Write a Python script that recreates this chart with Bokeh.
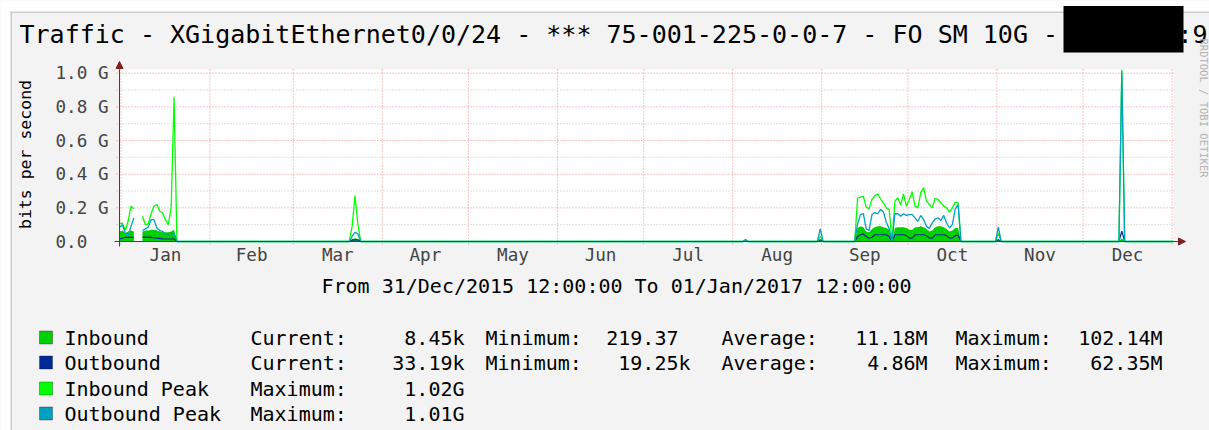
import math
import pandas as pd
from bokeh.plotting import figure
from bokeh.models import (Range1d, FixedTicker, CustomJSTickFormatter, DatetimeTickFormatter,
                          Label, BoxAnnotation, Arrow, NormalHead, ColumnDataSource,
                          DatetimeAxis, LinearAxis)
from bokeh.embed import file_html
from bokeh.resources import INLINE

nan = float("nan")

# ---------------- data (Gbit/s, daily samples; nan = no data) ----------------
times = (
    ["2015-12-31 12:00"] + [f"2016-01-{d:02d} 12:00" for d in range(1, 21)]
    + ["2016-03-20 12:00", "2016-03-21 12:00", "2016-03-22 12:00", "2016-03-23 12:00", "2016-03-24 12:00"]
    + ["2016-08-04 12:00", "2016-08-05 12:00", "2016-08-06 12:00"]
    + ["2016-08-30 12:00", "2016-08-31 12:00", "2016-09-01 12:00"]
    + [f"2016-09-{d:02d} 12:00" for d in range(12, 31)]
    + [f"2016-10-{d:02d} 12:00" for d in range(1, 20)]
    + ["2016-10-31 12:00", "2016-11-01 12:00", "2016-11-02 12:00"]
    + ["2016-12-13 12:00", "2016-12-14 12:00", "2016-12-15 12:00"]
    + ["2017-01-01 12:00"]
)

inbound = (
    [0.06, 0.065, 0.05, 0.06, 0.065, 0.06, nan, nan, 0.06, 0.065, 0.065, 0.07, 0.07, 0.065, 0.06, 0.055, 0.055, 0.055, 0.06, 0.07, 0]
    + [0, 0.015, 0.02, 0.015, 0]
    + [0, 0.004, 0]
    + [0, 0.01, 0]
    + [0, 0.08, 0.09, 0.085, 0.06, 0.055, 0.075, 0.085, 0.09, 0.09, 0.085, 0.08, 0.07, 0,
       0.08, 0.085, 0.085, 0.085, 0.08,
       0.07, 0.07, 0.085, 0.085, 0.09, 0.085, 0.075, 0.06, 0.065, 0.085, 0.09, 0.09, 0.085, 0.075, 0.06, 0.065, 0.08, 0.08, 0]
    + [0, 0.015, 0]
    + [0, 0.02, 0]
    + [0]
)

outbound = (
    [0.015, 0.02, 0.025, 0.025, 0.025, 0.025, nan, nan, 0.026, 0.026, 0.026, 0.025, 0.022, 0.02, 0.018, 0.016, 0.015, 0.015, 0.015, 0.015, 0]
    + [0, 0.008, 0.01, 0.01, 0]
    + [0, 0.003, 0]
    + [0, 0.01, 0]
    + [0, 0.03, 0.04, 0.045, 0.03, 0.02, 0.025, 0.04, 0.04, 0.04, 0.04, 0.04, 0.03, 0,
       0.04, 0.04, 0.04, 0.04, 0.035,
       0.02, 0.02, 0.04, 0.04, 0.04, 0.04, 0.035, 0.02, 0.02, 0.04, 0.04, 0.04, 0.04, 0.035, 0.02, 0.022, 0.035, 0.038, 0]
    + [0, 0.01, 0]
    + [0, 0.062, 0]
    + [0]
)

inbound_peak = (
    [0.105, 0.11, 0.065, 0.12, 0.21, 0.195, nan, nan, 0.15, 0.10, 0.105, 0.165, 0.21, 0.22, 0.18, 0.17, 0.13, 0.10, 0.205, 0.857, 0]
    + [0, 0.09, 0.273, 0.105, 0]
    + [0, 0.008, 0]
    + [0, 0.03, 0]
    + [0, 0.257, 0.263, 0.269, 0.204, 0.194, 0.25, 0.272, 0.283, 0.254, 0.23, 0.2, 0.19, 0,
       0.24, 0.26, 0.218, 0.283, 0.21,
       0.25, 0.295, 0.21, 0.2, 0.29, 0.32, 0.24, 0.22, 0.2, 0.257, 0.25, 0.23, 0.21, 0.2, 0.174, 0.2, 0.234, 0.23, 0]
    + [0, 0.05, 0]
    + [0, 1.02, 0]
    + [0]
)

outbound_peak = (
    [0.085, 0.10, 0.05, 0.035, 0.09, 0.14, nan, nan, 0.065, 0.075, 0.085, 0.13, 0.13, 0.08, 0.065, 0.06, 0.045, 0.045, 0.045, 0.05, 0]
    + [0, 0.03, 0.055, 0.045, 0]
    + [0, 0.012, 0]
    + [0, 0.075, 0]
    + [0, 0.105, 0.16, 0.165, 0.075, 0.065, 0.16, 0.172, 0.165, 0.19, 0.175, 0.115, 0.075, 0,
       0.165, 0.165, 0.15, 0.165, 0.155,
       0.16, 0.16, 0.14, 0.12, 0.155, 0.13, 0.09, 0.078, 0.11, 0.135, 0.14, 0.125, 0.155, 0.11, 0.08, 0.1, 0.194, 0.218, 0]
    + [0, 0.085, 0]
    + [0, 1.01, 0]
    + [0]
)

y_ticks = [0.0, 0.2, 0.4, 0.6, 0.8, 1.0]
y_minor = [0.1, 0.3, 0.5, 0.7, 0.9]

legend_names = ["Inbound", "Outbound", "Inbound Peak", "Outbound Peak"]
legend_colors = ["#00CF00", "#002A97", "#00FF00", "#00A0C0"]
col1_label = ["Current:", "Current:", "Maximum:", "Maximum:"]
col1_value = ["8.45k", "33.19k", "1.02G", "1.01G"]
minimum = ["219.37", "19.25k", None, None]
average = ["11.18M", "4.86M", None, None]
maximum = ["102.14M", "62.35M", None, None]

title_text = "Traffic - XGigabitEthernet0/0/24 - *** 75-001-225-0-0-7 - FO SM 10G -"
title_tail = ":9"
y_label = "bits per second"
period_text = "From 31/Dec/2015 12:00:00 To 01/Jan/2017 12:00:00"
watermark = "RRDTOOL / TOBI OETIKER"

# ---------------- styling ----------------
MONO = "DejaVu Sans Mono"
AXIS = "#2C4D43"
ARROW = "#7F1F1F"
BG = "#F3F3F3"
W, H = 1209, 430
LEG = "20px"

T0 = pd.Timestamp("2015-12-31 12:00")
T1 = pd.Timestamp("2017-01-01 12:00")
YTOP = 1.022
t0ms = T0.value / 1e6
t1ms = T1.value / 1e6
FX0, FX1, FY0, FY1 = 119, 1173, 241, 69   # chart canvas edges in page pixels


def X(px):
    return t0ms + (px - FX0) / (FX1 - FX0) * (t1ms - t0ms)


def Y(py):
    return (FY0 - py) / (FY0 - FY1) * YTOP


p = figure(width=W, height=H, x_axis_type="datetime",
           x_axis_location=None, y_axis_location=None,
           x_range=Range1d(X(0), X(W)), y_range=Range1d(Y(H), Y(0)),
           output_backend="svg", toolbar_location=None,
           min_border=0, min_border_left=0, min_border_right=0, min_border_top=0, min_border_bottom=0,
           background_fill_color=BG, border_fill_color=BG, outline_line_color=None)
p.grid.visible = False

# white chart canvas
p.add_layout(BoxAnnotation(left=t0ms, right=t1ms, bottom=0, top=YTOP, level="underlay",
                           fill_color="white", fill_alpha=1, line_color=None))

# grid lines
month_starts = [ts.value / 1e6 for ts in pd.date_range("2016-01-01", "2017-01-01", freq="MS")]
month_mids = [(a + b) / 2 for a, b in zip(month_starts[:-1], month_starts[1:])]

p.segment(x0=[X(116)] * len(y_minor), x1=[t1ms] * len(y_minor), y0=y_minor, y1=y_minor,
          line_color="#8C8C8C", line_alpha=0.5, line_dash="1 2", line_width=1)
p.segment(x0=[X(116)] * 5, x1=[t1ms] * 5, y0=y_ticks[1:], y1=y_ticks[1:],
          line_color="#E00000", line_alpha=0.45, line_dash="1 2", line_width=1)
p.segment(x0=month_starts, x1=month_starts, y0=[Y(244)] * len(month_starts), y1=[YTOP] * len(month_starts),
          line_color="#E00000", line_alpha=0.45, line_dash="1 2", line_width=1)

# ---------------- data renderers ----------------
t = pd.to_datetime(times)
src = ColumnDataSource(dict(t=t, inb=inbound, outb=outbound, inp=inbound_peak, outp=outbound_peak))

run = []
for i, v in enumerate(inbound):
    if v == v:
        run.append(i)
    if (v != v or i == len(inbound) - 1) and run:
        p.varea(x=[t[j] for j in run], y1=[0] * len(run), y2=[inbound[j] for j in run],
                fill_color=legend_colors[0])
        run = []

p.line("t", "outb", source=src, line_color=legend_colors[1], line_width=1.2)
p.line("t", "inp", source=src, line_color=legend_colors[2], line_width=1.3)
p.line("t", "outp", source=src, line_color=legend_colors[3], line_width=1.3)

# ---------------- axes (fixed at the chart origin) ----------------
yaxis = LinearAxis(fixed_location=t0ms, bounds=(Y(246), YTOP),
                   ticker=FixedTicker(ticks=y_ticks),
                   formatter=CustomJSTickFormatter(
                       code="return tick == 0 ? '0.0\\u00a0\\u00a0' : tick.toFixed(1) + ' G';"),
                   major_label_text_font=MONO, major_label_text_font_size="17.6px",
                   major_label_standoff=11, major_tick_in=0, major_tick_out=0,
                   minor_tick_in=0, minor_tick_out=0, axis_line_color=AXIS)
p.add_layout(yaxis, "left")

fmt = "%b"
xaxis = DatetimeAxis(fixed_location=0, bounds=(X(114), t1ms),
                     ticker=FixedTicker(ticks=month_mids),
                     formatter=DatetimeTickFormatter(microseconds=fmt, milliseconds=fmt, seconds=fmt,
                                                     minsec=fmt, minutes=fmt, hourmin=fmt, hours=fmt,
                                                     days=fmt, months=fmt, years=fmt),
                     major_label_text_font=MONO, major_label_text_font_size="17.6px",
                     major_label_standoff=3, major_tick_in=0, major_tick_out=0,
                     minor_tick_in=0, minor_tick_out=0, axis_line_color=AXIS)
p.add_layout(xaxis, "below")

# axis arrows
p.add_layout(Arrow(end=NormalHead(size=7, fill_color=ARROW, line_color=ARROW),
                   x_start=t1ms, y_start=0, x_end=X(1185), y_end=0, line_color=AXIS))
p.add_layout(Arrow(end=NormalHead(size=7, fill_color=ARROW, line_color=ARROW),
                   x_start=t0ms, y_start=YTOP, x_end=t0ms, y_end=Y(61), line_color=AXIS))

# panel edges
p.add_layout(BoxAnnotation(left=X(0), right=X(W), top=Y(0), bottom=Y(11),
                           fill_color="white", fill_alpha=1, line_color=None))
p.add_layout(BoxAnnotation(left=X(0), right=X(10), top=Y(0), bottom=Y(H),
                           fill_color="white", fill_alpha=1, line_color=None))
p.add_layout(BoxAnnotation(left=X(10), right=X(W), top=Y(11), bottom=Y(12.5),
                           fill_color="#CFCFCF", fill_alpha=1, line_color=None))
p.add_layout(BoxAnnotation(left=X(10), right=X(11.5), top=Y(11), bottom=Y(H),
                           fill_color="#CFCFCF", fill_alpha=1, line_color=None))


def lab(text, px, py, size, align="left", color="black", angle=0, baseline="middle"):
    p.add_layout(Label(x=X(px), y=Y(py), text=text, text_font=MONO, text_font_size=size,
                       text_align=align, text_baseline=baseline, text_color=color, angle=angle))


# title and redaction box
lab(title_text, 19, 34, "25px")
p.add_layout(BoxAnnotation(left=X(1063), right=X(1183), top=Y(5.5), bottom=Y(52),
                           fill_color="black", fill_alpha=1, line_color=None))
lab(title_tail, 1207, 34, "25px", align="right")

# y axis label, watermark, period
lab(y_label, 25, 154, "16.5px", align="center", angle=math.pi / 2)
lab(watermark, 1203, 38, "10.5px", color="#B4B4B4", angle=-math.pi / 2)
lab(period_text, 616, 285, LEG, align="center")

# legend
row_y = [337, 362, 388, 413]
for i, name in enumerate(legend_names):
    yy = row_y[i]
    p.add_layout(BoxAnnotation(left=X(39), right=X(52), top=Y(yy - 6.5), bottom=Y(yy + 6.5),
                               fill_color=legend_colors[i], fill_alpha=1,
                               line_color="black", line_width=1))
    lab(name, 64, yy, LEG)
    lab(col1_label[i], 250, yy, LEG)
    lab(col1_value[i], 464, yy, LEG, align="right")
    if minimum[i]:
        lab("Minimum:", 485, yy, LEG)
        lab(minimum[i] + ("\u00a0" if minimum[i][-1].isdigit() else ""), 690, yy, LEG, align="right")
        lab("Average:", 721, yy, LEG)
        lab(average[i], 927, yy, LEG, align="right")
        lab("Maximum:", 955, yy, LEG)
        lab(maximum[i], 1162, yy, LEG, align="right")

open("out.html", "w").write(file_html(p, INLINE))
